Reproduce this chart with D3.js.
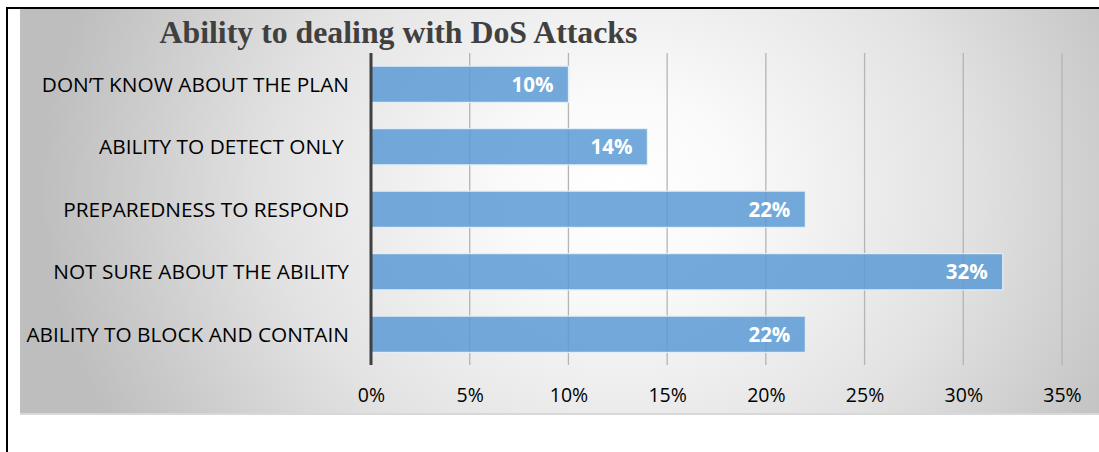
<!DOCTYPE html>
<html>
<head>
<meta charset="utf-8">
<script src="https://cdn.jsdelivr.net/npm/d3@7"></script>
<style>
  html, body { margin: 0; padding: 0; background: #ffffff; }
  svg { display: block; }
</style>
</head>
<body>
<svg id="chart" width="1099" height="452"></svg>
<script>
const title = "Ability to dealing with DoS Attacks";
const categories = [
  "DON\u2019T KNOW ABOUT THE PLAN",
  "ABILITY TO DETECT ONLY ",
  "PREPAREDNESS TO RESPOND",
  "NOT SURE ABOUT THE ABILITY",
  "ABILITY TO BLOCK AND CONTAIN"
];
const values = [0.10, 0.14, 0.22, 0.32, 0.22];
const tickValues = [0, 0.05, 0.10, 0.15, 0.20, 0.25, 0.30, 0.35];

const svg = d3.select("#chart");
const W = 1099, H = 452;

// background gradient
const defs = svg.append("defs");
const grad = defs.append("radialGradient")
  .attr("id", "bg").attr("gradientUnits", "userSpaceOnUse")
  .attr("cx", 620).attr("cy", 190).attr("r", 580)
  .attr("gradientTransform", "translate(620,190) scale(1,0.85) translate(-620,-190)");
grad.append("stop").attr("offset", "0").attr("stop-color", "#ffffff");
grad.append("stop").attr("offset", "0.2").attr("stop-color", "#fafafa");
grad.append("stop").attr("offset", "0.6").attr("stop-color", "#e2e2e2");
grad.append("stop").attr("offset", "1").attr("stop-color", "#bebebe");

// shadow under background
svg.append("rect").attr("x", 20).attr("y", 11).attr("width", W - 20).attr("height", 404)
  .attr("fill", "#d8d8d8");
svg.append("rect").attr("x", 20).attr("y", 9).attr("width", W - 20).attr("height", 404)
  .attr("fill", "url(#bg)");

// outer border lines
svg.append("line").attr("x1", 7).attr("x2", W).attr("y1", 8).attr("y2", 8)
  .attr("stroke", "#000").attr("stroke-width", 2);
svg.append("line").attr("x1", 7).attr("x2", 7).attr("y1", 7).attr("y2", H)
  .attr("stroke", "#000").attr("stroke-width", 2);

// scales
const x = d3.scaleLinear().domain([0, 0.35]).range([371, 1062]);
const y = d3.scaleBand().domain(categories).range([53, 365.5]).paddingInner(0.42).paddingOuter(0.21);

// gridlines
svg.append("g").selectAll("line").data(tickValues.slice(1)).join("line")
  .attr("x1", d => x(d)).attr("x2", d => x(d))
  .attr("y1", 53).attr("y2", 365)
  .attr("stroke", "#b4b4b4").attr("stroke-width", 1.3);

// bars
svg.append("g").selectAll("rect").data(values).join("rect")
  .attr("x", x(0))
  .attr("y", (d, i) => y(categories[i]))
  .attr("width", d => x(d) - x(0))
  .attr("height", y.bandwidth())
  .attr("fill", "#5b9bd5")
  .attr("fill-opacity", 0.85)
  .attr("stroke", "#e4eef8").attr("stroke-width", 1.2);

// data labels
svg.append("g").selectAll("text").data(values).join("text")
  .attr("x", d => x(d) - 15)
  .attr("y", (d, i) => y(categories[i]) + y.bandwidth() / 2)
  .attr("dy", "0.36em")
  .attr("text-anchor", "end")
  .attr("font-family", "'Open Sans', sans-serif")
  .attr("font-weight", "bold")
  .attr("font-size", 20.5)
  .attr("fill", "#ffffff")
  .text(d => d3.format(".0%")(d));

// y axis (category labels)
const yAxis = d3.axisLeft(y).tickSize(0).tickPadding(22);
const yg = svg.append("g").attr("transform", `translate(${x(0)},0)`).call(yAxis);
yg.select(".domain").remove();
yg.selectAll("text")
  .attr("font-family", "'Open Sans', sans-serif")
  .attr("font-size", 20.8)
  .attr("fill", "#000")
  .attr("dy", "0.36em")
  .style("white-space", "pre");

// axis line at 0
svg.append("line").attr("x1", x(0)).attr("x2", x(0)).attr("y1", 53).attr("y2", 365)
  .attr("stroke", "#404040").attr("stroke-width", 3);

// x axis labels
const xAxis = d3.axisBottom(x).tickValues(tickValues).tickFormat(d3.format(".0%")).tickSize(0).tickPadding(0);
const xg = svg.append("g").attr("transform", "translate(0,388)").call(xAxis);
xg.select(".domain").remove();
xg.selectAll("text")
  .attr("font-family", "'Open Sans', sans-serif")
  .attr("font-size", 19.5)
  .attr("fill", "#000")
  .attr("dy", "0.72em");

// title
svg.append("text")
  .attr("x", 398.5).attr("y", 43)
  .attr("text-anchor", "middle")
  .attr("font-family", "'Liberation Serif', 'Times New Roman', serif")
  .attr("font-weight", "bold")
  .attr("font-size", 31.8)
  .attr("fill", "#404040")
  .text(title);
</script>
</body>
</html>
